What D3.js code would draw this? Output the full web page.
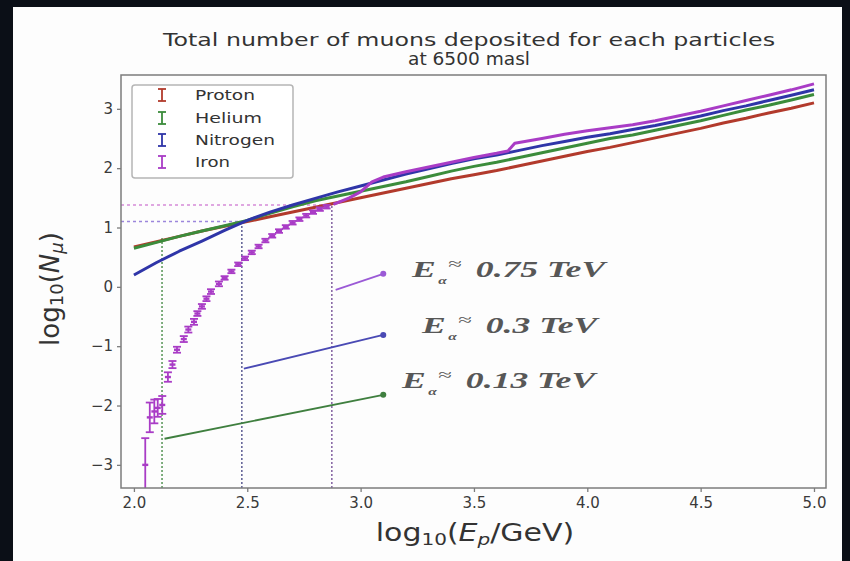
<!DOCTYPE html>
<html>
<head>
<meta charset="utf-8">
<script src="https://cdn.jsdelivr.net/npm/d3@7"></script>
<style>
  html, body { margin: 0; padding: 0; background: #0b0f17; }
  svg { display: block; }
</style>
</head>
<body>
<svg id="chart" width="850" height="561"></svg>
<script>
// ---- data -------------------------------------------------------------
const xTicks = [2.0, 2.5, 3.0, 3.5, 4.0, 4.5, 5.0];
const yTicks = [-3, -2, -1, 0, 1, 2, 3];

// log10(E_p / GeV) sampling for the light primaries
const energyGrid = [2.0, 2.1, 2.2, 2.3, 2.4, 2.5, 2.6, 2.7, 2.8, 2.9, 3.0,
                    3.1, 3.2, 3.3, 3.4, 3.5, 3.6, 3.7, 3.8, 3.9, 4.0,
                    4.1, 4.2, 4.3, 4.4, 4.5, 4.6, 4.7, 4.8, 4.9, 5.0];
// log10(N_mu)
const protonMu   = [0.67, 0.76, 0.85, 0.94, 1.02, 1.10, 1.18, 1.26, 1.34, 1.42, 1.50,
                    1.58, 1.66, 1.74, 1.82, 1.89, 1.96, 2.04, 2.12, 2.20, 2.28,
                    2.35, 2.43, 2.51, 2.59, 2.67, 2.76, 2.84, 2.93, 3.01, 3.10];
const heliumMu   = [0.65, 0.75, 0.85, 0.94, 1.03, 1.12, 1.24, 1.35, 1.45, 1.53, 1.61,
                    1.69, 1.77, 1.86, 1.95, 2.03, 2.10, 2.18, 2.26, 2.34, 2.42,
                    2.50, 2.56, 2.64, 2.72, 2.80, 2.89, 2.98, 3.06, 3.15, 3.24];
const nitrogenMu = [0.20, 0.41, 0.60, 0.77, 0.95, 1.12, 1.26, 1.38, 1.49, 1.60, 1.70,
                    1.80, 1.90, 1.99, 2.08, 2.16, 2.22, 2.30, 2.38, 2.45, 2.52,
                    2.58, 2.65, 2.72, 2.80, 2.88, 2.97, 3.05, 3.14, 3.23, 3.32];

// iron: sparse near threshold, with error bars
const ironEnergy = [2.05, 2.07, 2.09, 2.105, 2.125, 2.15, 2.17, 2.19, 2.22, 2.24, 2.265,
                    2.28, 2.30, 2.32, 2.34, 2.375, 2.40, 2.43, 2.46, 2.49, 2.52, 2.55,
                    2.58, 2.61, 2.64, 2.67, 2.70, 2.73, 2.76, 2.79, 2.82, 2.85, 2.88,
                    2.95, 3.0, 3.05, 3.1, 3.2, 3.3, 3.4, 3.5, 3.6, 3.65, 3.68, 3.8,
                    3.9, 4.0, 4.1, 4.2, 4.3, 4.4, 4.5, 4.6, 4.7, 4.8, 4.9, 5.0];
const ironMu     = [-3.00, -2.20, -2.10, -2.04, -1.99, -1.52, -1.31, -1.06, -0.88, -0.72, -0.59,
                    -0.45, -0.33, -0.20, -0.08, 0.05, 0.15, 0.26, 0.38, 0.48, 0.58, 0.68,
                    0.78, 0.86, 0.94, 1.01, 1.08, 1.14, 1.20, 1.26, 1.31, 1.35, 1.39,
                    1.50, 1.60, 1.77, 1.85, 1.94, 2.02, 2.10, 2.18, 2.25, 2.29, 2.42, 2.50,
                    2.57, 2.63, 2.68, 2.73, 2.80, 2.88, 2.96, 3.05, 3.14, 3.23, 3.32, 3.42];
const ironErr    = [0.45, 0.25, 0.20, 0.15, 0.15, 0.08, 0.06, 0.05, 0.05, 0.05, 0.05,
                    0.04, 0.04, 0.04, 0.04, 0.04, 0.03, 0.03, 0.03, 0.03, 0.03, 0.03,
                    0.03, 0.03, 0.03, 0.03, 0.03, 0.03, 0.03, 0.03, 0.03, 0.03, 0.03,
                    0.02, 0.02, 0.02, 0.02, 0.02, 0.02, 0.02, 0.02, 0.02, 0.02, 0.02, 0.02,
                    0.02, 0.02, 0.02, 0.02, 0.02, 0.02, 0.02, 0.02, 0.02, 0.02, 0.02, 0.02];

const seriesNames = ["Proton", "Helium", "Nitrogen", "Iron"];

// threshold energies (log10 E / GeV) and the muon level reached there
const thresholdE  = [2.124, 2.476, 2.873];
const thresholdMu = [0.84, 1.10, 1.38];
const thresholdTeV = ["0.13", "0.3", "0.75"];

// callout arrows: start and end in data units, and label anchors
const calloutFromE  = [2.135, 2.485, 2.89];
const calloutFromMu = [-2.56, -1.38, -0.05];
const calloutToE    = [3.10, 3.10, 3.10];
const calloutToMu   = [-1.82, -0.81, 0.22];
const labelE  = [3.183, 3.271, 3.227];
const labelMu = [-1.70, -0.778, 0.166];

// ---- styling ------------------------------------------------------------
const colors = { Proton: "#b23a2c", Helium: "#3b8c3b", Nitrogen: "#2f35a8", Iron: "#a93cc6" };
const guideV = ["#5f9a5f", "#66669a", "#8a6aa6"];
const guideH = [null, "#9c86dc", "#d58ad8"];
const calloutColors = ["#3f7f3f", "#4a4ab4", "#9b5ad6"];

const svg = d3.select("#chart");

// white figure panel inside the dark frame
svg.append("rect").attr("x", 13).attr("y", 7).attr("width", 829).attr("height", 554)
  .attr("fill", "#fdfdfd");

const x = d3.scaleLinear().domain([1.943, 5.053]).range([121, 826]);
const y = d3.scaleLinear().domain([-3.39, 3.57]).range([488, 75]);

svg.append("defs").append("clipPath").attr("id", "plotClip")
  .append("rect").attr("x", 121).attr("y", 75).attr("width", 705).attr("height", 413);

const plot = svg.append("g").attr("clip-path", "url(#plotClip)");

// guides: dotted verticals at each threshold, dashed horizontals to the axis
thresholdE.forEach((e, i) => {
  plot.append("line")
    .attr("x1", x(e)).attr("x2", x(e))
    .attr("y1", y(-3.39)).attr("y2", y(thresholdMu[i]))
    .attr("stroke", guideV[i]).attr("stroke-width", 1.6)
    .attr("stroke-dasharray", "2,2");
  if (guideH[i]) {
    plot.append("line")
      .attr("x1", x(1.943)).attr("x2", x(e))
      .attr("y1", y(thresholdMu[i])).attr("y2", y(thresholdMu[i]))
      .attr("stroke", guideH[i]).attr("stroke-width", 1.6)
      .attr("stroke-dasharray", "3,3");
  }
});

// series
const line = d3.line().x(d => x(d[0])).y(d => y(d[1]));
const lightSeries = [
  ["Proton", protonMu], ["Helium", heliumMu], ["Nitrogen", nitrogenMu]
];
lightSeries.forEach(([name, vals]) => {
  plot.append("path")
    .datum(energyGrid.map((e, i) => [e, vals[i]]))
    .attr("fill", "none").attr("stroke", colors[name])
    .attr("stroke-width", 3).attr("stroke-linejoin", "round")
    .attr("d", line);
});

const iron = ironEnergy.map((e, i) => ({ e, mu: ironMu[i], err: ironErr[i] }));
const ironDense = iron.filter(d => d.e >= 2.88);
const ironSparse = iron.filter(d => d.e < 2.88);

plot.append("path")
  .datum(ironDense.map(d => [d.e, d.mu]))
  .attr("fill", "none").attr("stroke", colors.Iron)
  .attr("stroke-width", 3).attr("stroke-linejoin", "round")
  .attr("d", line);

const bars = plot.append("g").attr("stroke", colors.Iron).attr("stroke-width", 1.8);
ironSparse.forEach(d => {
  const cx = x(d.e), top = y(d.mu + d.err), bot = y(d.mu - d.err);
  bars.append("line").attr("x1", cx).attr("x2", cx).attr("y1", top).attr("y2", bot);
  bars.append("line").attr("x1", cx - 4).attr("x2", cx + 4).attr("y1", top).attr("y2", top);
  bars.append("line").attr("x1", cx - 4).attr("x2", cx + 4).attr("y1", bot).attr("y2", bot);
  bars.append("line").attr("x1", cx - 3).attr("x2", cx + 3).attr("y1", y(d.mu)).attr("y2", y(d.mu))
    .attr("stroke-width", 2.4);
});

// callout arrows
thresholdE.forEach((e, i) => {
  plot.append("line")
    .attr("x1", x(calloutFromE[i])).attr("y1", y(calloutFromMu[i]))
    .attr("x2", x(calloutToE[i])).attr("y2", y(calloutToMu[i]))
    .attr("stroke", calloutColors[i]).attr("stroke-width", 1.8);
  plot.append("circle")
    .attr("cx", x(calloutToE[i])).attr("cy", y(calloutToMu[i])).attr("r", 3)
    .attr("fill", calloutColors[i]);
});

// callout labels: one text per label, widened like the rest of the figure
thresholdTeV.forEach((t, i) => {
  const txt = svg.append("text")
    .attr("transform", `translate(${x(labelE[i])},${y(labelMu[i])}) scale(1.55,1)`)
    .attr("fill", "#575757")
    .attr("font-family", "'Liberation Serif', 'DejaVu Serif', serif")
    .attr("font-weight", "bold").attr("font-style", "italic")
    .attr("font-size", 23);
  txt.append("tspan").text("E");
  txt.append("tspan").attr("font-size", 10).attr("dx", 1.5).attr("dy", 7).text("α");
  txt.append("tspan").attr("font-size", 16).attr("font-style", "normal")
    .attr("font-weight", "normal").attr("dx", 1).attr("dy", -15).text("≈");
  txt.append("tspan").attr("dx", 9).attr("dy", 8).text(`${t} TeV`);
});

// frame
svg.append("rect").attr("x", 121).attr("y", 75).attr("width", 705).attr("height", 413)
  .attr("fill", "none").attr("stroke", "#7c7c7c").attr("stroke-width", 1.5);

// axes
const fmtY = d => d < 0 ? "\u2212" + Math.abs(d) : String(d);
const xAxis = svg.append("g").attr("transform", "translate(0,488)")
  .call(d3.axisBottom(x).tickValues(xTicks).tickSize(4).tickPadding(5).tickFormat(d3.format(".1f")));
const yAxis = svg.append("g").attr("transform", "translate(121,0)")
  .call(d3.axisLeft(y).tickValues(yTicks).tickSize(4).tickPadding(4).tickFormat(fmtY));
[xAxis, yAxis].forEach(a => {
  a.select(".domain").remove();
  a.selectAll(".tick line").attr("stroke", "#7c7c7c").attr("stroke-width", 1.3);
  a.selectAll(".tick text").attr("fill", "#3a3a3a")
    .attr("font-family", "'DejaVu Sans', sans-serif").attr("font-size", 15);
});

// title
const title = svg.append("g").attr("fill", "#333")
  .attr("font-family", "'DejaVu Sans', sans-serif").attr("font-size", 18)
  .attr("text-anchor", "middle");
title.append("text").attr("x", 469).attr("y", 46)
  .attr("textLength", 612).attr("lengthAdjust", "spacingAndGlyphs")
  .text("Total number of muons deposited for each particles");
title.append("text").attr("x", 469).attr("y", 65)
  .attr("textLength", 122).attr("lengthAdjust", "spacingAndGlyphs")
  .text("at 6500 masl");

// axis labels
const xl = svg.append("text")
  .attr("transform", "translate(475,541) scale(1.25,1)")
  .attr("text-anchor", "middle").attr("fill", "#333")
  .attr("font-family", "'DejaVu Sans', sans-serif").attr("font-size", 24);
xl.append("tspan").text("log");
xl.append("tspan").attr("font-size", 16).attr("dy", 4).text("10");
xl.append("tspan").attr("dy", -4).text("(");
xl.append("tspan").attr("font-style", "italic").text("E");
xl.append("tspan").attr("font-style", "italic").attr("font-size", 16).attr("dy", 4).text("p");
xl.append("tspan").attr("dy", -4).text("/GeV)");

const yl = svg.append("text")
  .attr("transform", "translate(59,289) rotate(-90)")
  .attr("text-anchor", "middle").attr("fill", "#333")
  .attr("font-family", "'DejaVu Sans', sans-serif").attr("font-size", 26);
yl.append("tspan").text("log");
yl.append("tspan").attr("font-size", 18).attr("dy", 4).text("10");
yl.append("tspan").attr("dy", -4).text("(");
yl.append("tspan").attr("font-style", "italic").text("N");
yl.append("tspan").attr("font-style", "italic").attr("font-size", 18).attr("dy", 4).text("μ");
yl.append("tspan").attr("dy", -4).text(")");

// legend
const legend = svg.append("g");
legend.append("rect").attr("x", 132).attr("y", 85).attr("width", 161).attr("height", 93)
  .attr("rx", 3).attr("fill", "#fff").attr("stroke", "#b5b5b5").attr("stroke-width", 1.5);
const legendBase = [100, 123, 145, 167];
const legendWidths = [60, 67, 80, 35];
seriesNames.forEach((name, i) => {
  const cy = legendBase[i] - 5;
  const m = legend.append("g").attr("stroke", colors[name]).attr("stroke-width", 1.8);
  m.append("line").attr("x1", 162).attr("x2", 162).attr("y1", cy - 6).attr("y2", cy + 6);
  m.append("line").attr("x1", 158).attr("x2", 166).attr("y1", cy - 6).attr("y2", cy - 6);
  m.append("line").attr("x1", 158).attr("x2", 166).attr("y1", cy + 6).attr("y2", cy + 6);
  legend.append("text").attr("x", 195).attr("y", legendBase[i])
    .attr("fill", "#333").attr("font-family", "'DejaVu Sans', sans-serif").attr("font-size", 14)
    .attr("textLength", legendWidths[i]).attr("lengthAdjust", "spacingAndGlyphs")
    .text(name);
});
</script>
</body>
</html>
